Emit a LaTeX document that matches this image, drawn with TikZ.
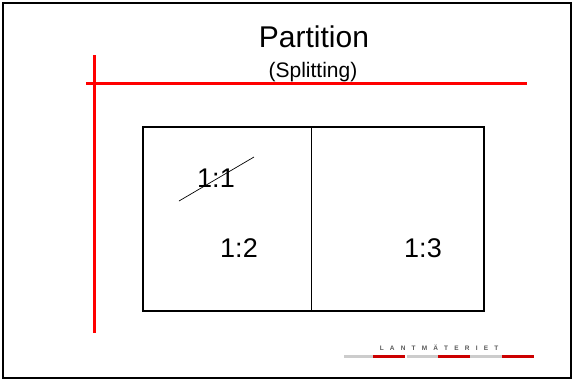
\documentclass[tikz,border=0pt]{standalone}
\usepackage{fontspec}
\setmainfont{Liberation Sans}
\newfontfamily\logofont[LetterSpace=95]{Liberation Sans}
\usetikzlibrary{positioning}

\begin{document}
\begin{tikzpicture}[x=1pt,y=-1pt, redline/.style={draw=red,line width=3pt},
  cell/.style={font=\fontsize{27}{30}\selectfont,anchor=base}]
  \useasboundingbox (0,0) rectangle (574,381);
  \draw[line width=1.4pt] (3,3) rectangle (571,378);
  % title
  \node[anchor=base,font=\fontsize{30}{34}\selectfont] (title) at (314,47) {Partition};
  \node[anchor=base,font=\fontsize{21}{24}\selectfont] (sub) at (313,77) {(Splitting)};
  % red axes
  \coordinate (hl) at (86,83); \coordinate (hr) at (527,83);
  \coordinate (vt) at (94,55); \coordinate (vb) at (94,333);
  \draw[redline] (hl)--(hr); \draw[redline] (vt)--(vb);
  % the area split in two
  \coordinate (nw) at (143,127); \coordinate (se) at (484,311);
  \coordinate (dt) at (311,127); \coordinate (db) at (311,311);
  \draw[line width=1.3pt] (nw) rectangle (se);
  \draw[line width=0.7pt] (dt)--(db);
  \node[cell] (p11) at (216,187) {1:1};
  \node[cell] (p12) at (239,257) {1:2};
  \node[cell] (p13) at (423,257) {1:3};
  \coordinate (s1) at (179,201); \coordinate (s2) at (254,157);
  \draw[line width=0.7pt] (s1)--(s2);
  % logo
  \node[anchor=base,text=black!65,font=\logofont\bfseries\fontsize{6.5}{7}\selectfont] (logo) at (439,350) {LANTMÄTERIET};
  \foreach \x/\c [count=\i] in {344/black!20,373/red!80!black,407/black!20,438/red!80!black,470/black!20,502/red!80!black}
    \fill[\c] (\x,355) rectangle ++(32,3);
\end{tikzpicture}
\end{document}
